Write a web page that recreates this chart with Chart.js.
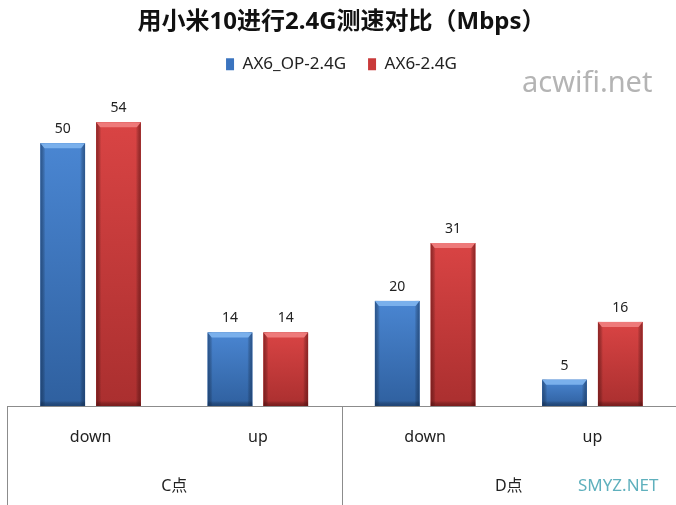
<!DOCTYPE html>
<html>
<head>
<meta charset="utf-8">
<script src="https://cdn.jsdelivr.net/npm/chart.js@4"></script>
<style>
html,body{margin:0;padding:0;background:#fff;}
#wrap{width:676px;height:505px;position:relative;}
</style>
</head>
<body>
<div id="wrap"><canvas id="c" width="676" height="505"></canvas></div>
<script>
const titleText = '用小米10进行2.4G测速对比（Mbps）';
const categories = ['down', 'up', 'down', 'up'];
const groups = ['C点', 'D点'];
const seriesNames = ['AX6_OP-2.4G', 'AX6-2.4G'];
const seriesOP = [50, 14, 20, 5];
const seriesAX6 = [54, 14, 31, 16];
const watermarkTop = 'acwifi.net';
const watermarkBottom = 'SMYZ.NET';

const FONT = '"Noto Sans", "Noto Sans CJK SC", sans-serif';
const palettes = [
  {base:'#3b74bf', top:'#4a86d2', bottom:'#2f609f', edge:'rgba(20,50,90,0.55)', bevel:'#7ab0ec'},
  {base:'#c93a3a', top:'#d94444', bottom:'#aa2f2f', edge:'rgba(90,15,15,0.55)', bevel:'#ee7a7a'}
];

const barStyler = {
  id: 'barStyler',
  afterDatasetsDraw(chart) {
    const ctx = chart.ctx;
    chart.data.datasets.forEach((ds, di) => {
      const meta = chart.getDatasetMeta(di);
      const p = palettes[di];
      meta.data.forEach((el, i) => {
        const {x, y, base, width} = el.getProps(['x','y','base','width'], true);
        const l = x - width/2, r = x + width/2, h = base - y;
        ctx.save();
        let g = ctx.createLinearGradient(0, y, 0, base);
        g.addColorStop(0, p.top);
        g.addColorStop(1, p.bottom);
        ctx.fillStyle = g;
        ctx.fillRect(l, y, width, h);
        let ge = ctx.createLinearGradient(l, 0, l + 5, 0);
        ge.addColorStop(0, p.edge); ge.addColorStop(1, 'rgba(0,0,0,0)');
        ctx.fillStyle = ge; ctx.fillRect(l, y, 5, h);
        ge = ctx.createLinearGradient(r, 0, r - 5, 0);
        ge.addColorStop(0, p.edge); ge.addColorStop(1, 'rgba(0,0,0,0)');
        ctx.fillStyle = ge; ctx.fillRect(r - 5, y, 5, h);
        ge = ctx.createLinearGradient(0, base, 0, base - 5);
        ge.addColorStop(0, p.edge); ge.addColorStop(1, 'rgba(0,0,0,0)');
        ctx.fillStyle = ge; ctx.fillRect(l, base - 5, width, 5);
        const bh = Math.min(5, h/2);
        ctx.beginPath();
        ctx.moveTo(l, y); ctx.lineTo(r, y); ctx.lineTo(r - 4, y + bh); ctx.lineTo(l + 4, y + bh); ctx.closePath();
        ctx.fillStyle = p.bevel; ctx.fill();
        ctx.restore();
        ctx.save();
        ctx.font = '14px ' + FONT;
        ctx.fillStyle = '#222';
        ctx.textAlign = 'center';
        ctx.textBaseline = 'middle';
        ctx.fillText(String(ds.data[i]), x, y - 14);
        ctx.restore();
      });
    });
  }
};

const groupAxis = {
  id: 'groupAxis',
  afterDraw(chart) {
    const ctx = chart.ctx;
    const xs = chart.scales.x;
    const area = chart.chartArea;
    const bottom = chart.height;
    ctx.save();
    ctx.strokeStyle = '#8c8c8c';
    ctx.lineWidth = 1;
    const step = xs.getPixelForValue(1) - xs.getPixelForValue(0);
    const bounds = [xs.getPixelForValue(0) - step/2, xs.getPixelForValue(2) - step/2];
    bounds.forEach(bx => {
      const px = Math.round(bx) + 0.5;
      ctx.beginPath(); ctx.moveTo(px, area.bottom); ctx.lineTo(px, bottom); ctx.stroke();
    });
    ctx.font = '16px ' + FONT;
    ctx.fillStyle = '#222';
    ctx.textAlign = 'center';
    ctx.textBaseline = 'middle';
    groups.forEach((g, gi) => {
      const cx = (xs.getPixelForValue(gi*2) + xs.getPixelForValue(gi*2+1)) / 2;
      ctx.fillText(g, cx, 486);
    });
    ctx.font = '29px ' + FONT;
    ctx.fillStyle = '#b4b4b4';
    ctx.textAlign = 'left';
    ctx.fillText(watermarkTop, 522, 84);
    ctx.font = '17px ' + FONT;
    ctx.fillStyle = '#5fb0bd';
    ctx.fillText(watermarkBottom, 578, 486);
    ctx.restore();
  }
};

new Chart(document.getElementById('c'), {
  type: 'bar',
  data: {
    labels: categories,
    datasets: [
      {label: seriesNames[0], data: seriesOP, backgroundColor: palettes[0].base, borderWidth: 0},
      {label: seriesNames[1], data: seriesAX6, backgroundColor: palettes[1].base, borderWidth: 0}
    ]
  },
  options: {
    responsive: false,
    animation: false,
    devicePixelRatio: 1,
    layout: {padding: {left: 7, right: 0, top: 0, bottom: 0}},
    datasets: {bar: {categoryPercentage: 0.667, barPercentage: 0.80}},
    plugins: {
      title: {display: true, text: titleText, color: '#111',
        font: {size: 24, weight: 'bold', family: FONT}, padding: {top: 8, bottom: -3}},
      legend: {display: true, position: 'top',
        labels: {boxWidth: 8, boxHeight: 12, padding: 22, color: '#222', font: {size: 17, family: FONT}}},
      tooltip: {enabled: false}
    },
    scales: {
      x: {
        grid: {display: false},
        border: {display: true, color: '#8c8c8c', width: 1},
        ticks: {color: '#222', font: {size: 16, family: FONT}, padding: 14},
        afterFit(scale) { scale.height = 99; }
      },
      y: {display: false, min: 0, max: 61.5}
    }
  },
  plugins: [barStyler, groupAxis]
});
</script>
</body>
</html>
